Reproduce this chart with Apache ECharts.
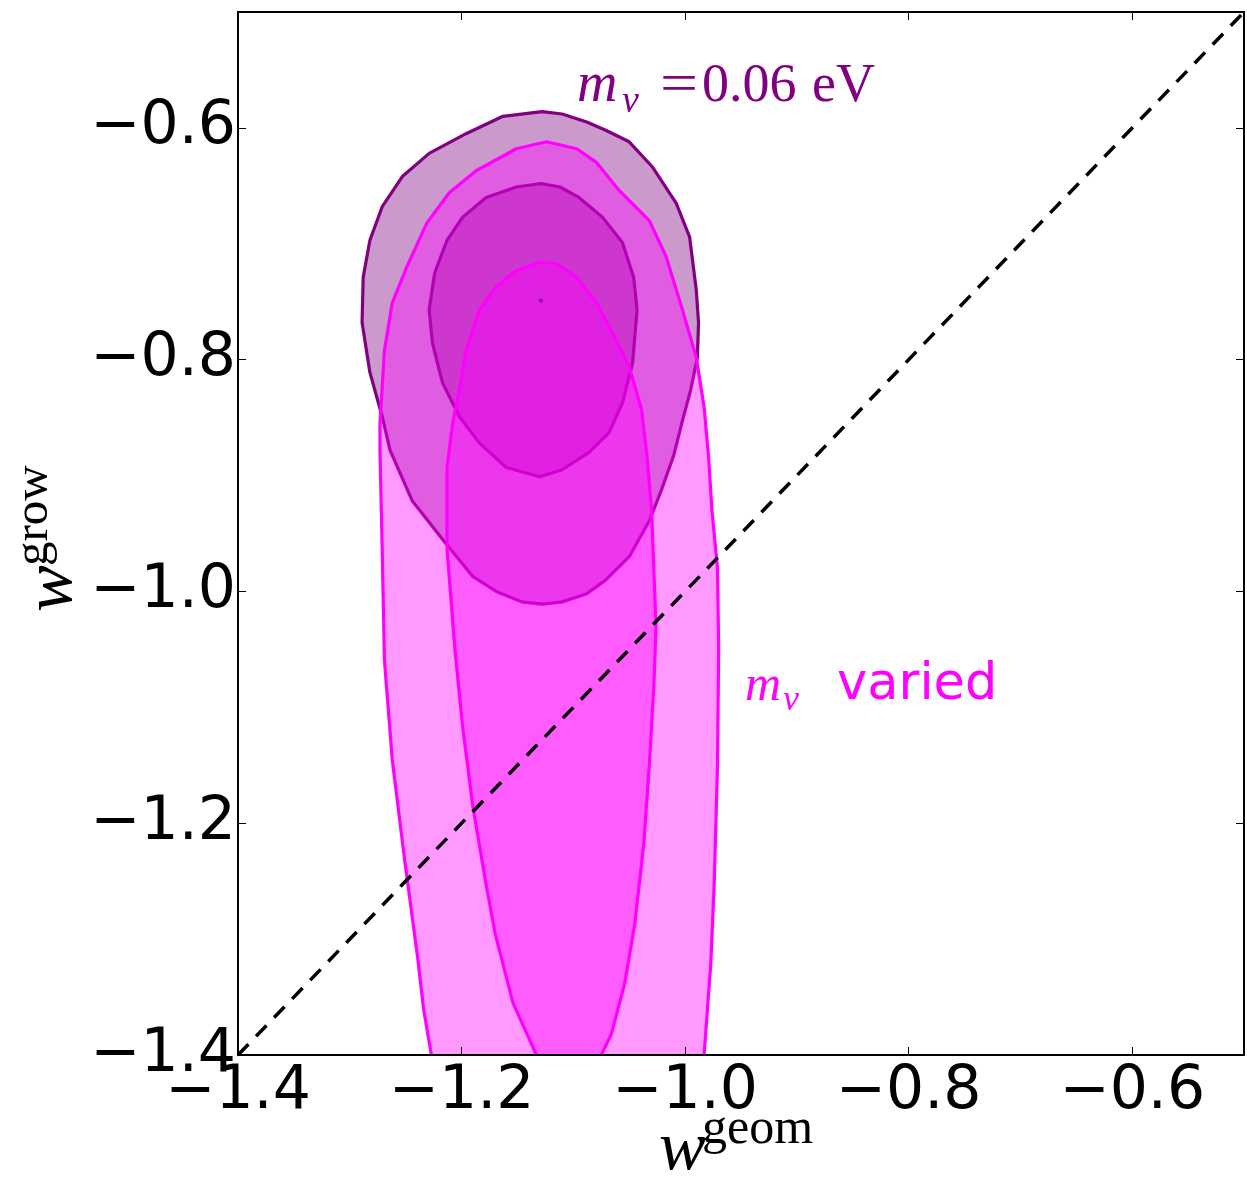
<!DOCTYPE html>
<html>
<head>
<meta charset="utf-8">
<script src="https://cdn.jsdelivr.net/npm/echarts@6.0.0/dist/echarts.min.js"></script>
<style>
  html, body { margin: 0; padding: 0; background: #fff; }
  #chart { width: 1247px; height: 1178px; }
</style>
</head>
<body>
<div id="chart"></div>
<script>
  // tick labels
  var xTicks = [-1.4, -1.2, -1.0, -0.8, -0.6];
  var yTicks = [-1.4, -1.2, -1.0, -0.8, -0.6];

  // m_nu = 0.06 eV, outer contour
  var fixedOuter = [
    [-1.128, -0.586], [-1.110, -0.588], [-1.088, -0.595], [-1.071, -0.602], [-1.050, -0.612],
    [-1.029, -0.634], [-1.008, -0.665], [-0.996, -0.694], [-0.990, -0.740], [-0.988, -0.768],
    [-0.989, -0.798], [-0.995, -0.826], [-1.003, -0.855], [-1.010, -0.882], [-1.021, -0.912],
    [-1.032, -0.939], [-1.050, -0.970], [-1.071, -0.990], [-1.088, -1.002], [-1.110, -1.009],
    [-1.128, -1.011], [-1.146, -1.009], [-1.169, -1.000], [-1.190, -0.987], [-1.213, -0.960],
    [-1.244, -0.922], [-1.264, -0.878], [-1.271, -0.849], [-1.282, -0.811], [-1.289, -0.768],
    [-1.288, -0.729], [-1.282, -0.697], [-1.271, -0.668], [-1.253, -0.642], [-1.229, -0.622],
    [-1.196, -0.605], [-1.163, -0.590]
  ];
  // m_nu = 0.06 eV, inner contour
  var fixedInner = [
    [-1.129, -0.648], [-1.112, -0.651], [-1.095, -0.660], [-1.074, -0.677], [-1.056, -0.699],
    [-1.046, -0.729], [-1.043, -0.757], [-1.047, -0.803], [-1.056, -0.837], [-1.068, -0.863],
    [-1.086, -0.880], [-1.110, -0.895], [-1.130, -0.901], [-1.160, -0.893], [-1.184, -0.872],
    [-1.202, -0.849], [-1.217, -0.820], [-1.226, -0.786], [-1.229, -0.757], [-1.224, -0.725],
    [-1.213, -0.697], [-1.199, -0.677], [-1.178, -0.660], [-1.151, -0.651]
  ];
  // m_nu varied, outer contour (runs off the bottom of the plot)
  var variedOuter = [
    [-1.227, -1.400], [-1.234, -1.360], [-1.239, -1.318], [-1.251, -1.231], [-1.262, -1.145],
    [-1.269, -1.059], [-1.271, -0.963], [-1.273, -0.878], [-1.273, -0.855], [-1.269, -0.792],
    [-1.262, -0.751], [-1.249, -0.720], [-1.231, -0.682], [-1.211, -0.656], [-1.187, -0.637],
    [-1.151, -0.618], [-1.124, -0.612], [-1.097, -0.618], [-1.079, -0.630], [-1.059, -0.654],
    [-1.032, -0.680], [-1.017, -0.711], [-1.003, -0.755], [-0.990, -0.798], [-0.983, -0.841],
    [-0.979, -0.884], [-0.976, -0.930], [-0.971, -0.980], [-0.970, -1.049], [-0.971, -1.150],
    [-0.974, -1.253], [-0.977, -1.321], [-0.983, -1.400]
  ];
  // m_nu varied, inner contour
  var variedInner = [
    [-1.133, -1.400], [-1.154, -1.355], [-1.170, -1.295], [-1.178, -1.253], [-1.190, -1.185],
    [-1.199, -1.117], [-1.206, -1.049], [-1.213, -0.963], [-1.213, -0.893], [-1.208, -0.855],
    [-1.202, -0.826], [-1.196, -0.792], [-1.184, -0.757], [-1.169, -0.737], [-1.151, -0.723],
    [-1.130, -0.716], [-1.115, -0.717], [-1.097, -0.729], [-1.079, -0.751], [-1.065, -0.777],
    [-1.050, -0.806], [-1.039, -0.843], [-1.034, -0.884], [-1.030, -0.930], [-1.026, -1.031],
    [-1.028, -1.082], [-1.032, -1.150], [-1.037, -1.218], [-1.045, -1.287], [-1.054, -1.338],
    [-1.066, -1.382], [-1.075, -1.400]
  ];
  var peak = [[-1.129, -0.749]];
  var diagonal = [[-1.4, -1.4], [-0.5, -0.5]];

  var purple = '#800080';
  var magenta = '#ff00ff';

  function tickFmt(list) {
    return function (v) {
      for (var i = 0; i < list.length; i++) {
        if (Math.abs(list[i] - v) < 1e-6) return list[i].toFixed(1).replace('-', '\u2212');
      }
      return '';
    };
  }

  // filled contour; closed=false leaves the edge open where it leaves the plot
  function contour(pts, fill, stroke, closed) {
    return {
      type: 'custom',
      coordinateSystem: 'cartesian2d',
      data: pts,
      encode: { x: 0, y: 1 },
      silent: true,
      renderItem: function (params, api) {
        if (params.dataIndex !== 0) return;
        var p = pts.map(function (d) { return api.coord(d); });
        var kids = [{
          type: 'polygon',
          shape: { points: p },
          style: { fill: fill, stroke: closed ? stroke : 'none', lineWidth: 3.2, lineJoin: 'round' }
        }];
        if (!closed) {
          kids.push({
            type: 'polyline',
            shape: { points: p },
            style: { fill: 'none', stroke: stroke, lineWidth: 3.2, lineJoin: 'round' }
          });
        }
        return { type: 'group', children: kids };
      }
    };
  }

  var axisLine = { show: true, onZero: false, lineStyle: { color: '#000', width: 2 } };
  var axisTick = { show: true, inside: true, length: 8, lineStyle: { color: '#000', width: 1 } };
  var labelFont = { fontSize: 60, fontFamily: 'DejaVu Sans', color: '#000' };

  var serif = 'Liberation Serif';
  function txt(x, y, s, size, color, italic, family, sx) {
    return {
      type: 'text', x: x, y: y, scaleX: sx || 1, silent: true,
      style: {
        text: s, fill: color,
        font: (italic ? 'italic ' : '') + size + 'px "' + (family || serif) + '"',
        align: 'left', textAlign: 'left', verticalAlign: 'middle', textVerticalAlign: 'middle'
      }
    };
  }

  var chart = echarts.init(document.getElementById('chart'));
  chart.setOption({
    animation: false,
    backgroundColor: '#fff',
    grid: { left: 238, top: 12, right: 1, bottom: 123 },
    xAxis: [
      {
        type: 'value', min: -1.4, max: -0.5, interval: 0.2, position: 'bottom', z: 5,
        axisLine: axisLine, axisTick: axisTick, splitLine: { show: false },
        axisLabel: Object.assign({ margin: 7, formatter: tickFmt(xTicks) }, labelFont)
      },
      {
        type: 'value', min: -1.4, max: -0.5, interval: 0.2, position: 'top', z: 5,
        axisLine: axisLine, axisTick: axisTick, splitLine: { show: false },
        axisLabel: { show: false }
      }
    ],
    yAxis: [
      {
        type: 'value', min: -1.4, max: -0.5, interval: 0.2, position: 'left', z: 5,
        axisLine: axisLine, axisTick: axisTick, splitLine: { show: false },
        axisLabel: Object.assign({ margin: 2, formatter: tickFmt(yTicks) }, labelFont)
      },
      {
        type: 'value', min: -1.4, max: -0.5, interval: 0.2, position: 'right', z: 5,
        axisLine: axisLine, axisTick: axisTick, splitLine: { show: false },
        axisLabel: { show: false }
      }
    ],
    series: [
      contour(fixedOuter, 'rgba(128,0,128,0.4)', purple, true),
      contour(fixedInner, 'rgba(128,0,128,0.4)', purple, true),
      contour(variedOuter, 'rgba(255,0,255,0.4)', magenta, false),
      contour(variedInner, 'rgba(255,0,255,0.4)', magenta, false),
      {
        type: 'scatter', data: peak, symbolSize: 4, silent: true,
        itemStyle: { color: purple }
      },
      {
        type: 'line', data: diagonal, symbol: 'none', silent: true,
        lineStyle: { color: '#000', width: 3.5, type: [15, 11] }
      }
    ],
    graphic: [
      // m_nu = 0.06 eV
      txt(577, 86, 'm', 56, purple, true),
      txt(622, 102, '\u03bd', 38, purple, true),
      txt(660, 87, '=', 54, purple, false, null, 1.25),
      txt(702, 87, '0.06', 54, purple, false),
      txt(812, 87, 'eV', 54, purple, false),
      // m_nu varied
      txt(745, 687, 'm', 50, magenta, true),
      txt(783, 701, '\u03bd', 36, magenta, true),
      txt(837, 686, 'varied', 51, magenta, false, 'DejaVu Sans'),
      // x axis title
      txt(659, 1151, 'w', 70, '#000', true),
      txt(702, 1130, 'geom', 50, '#000', false),
      // y axis title, rotated
      {
        type: 'group', x: 74, y: 612, rotation: Math.PI / 2,
        children: [
          txt(0, -21, 'w', 70, '#000', true),
          txt(46, -40, 'grow', 49, '#000', false)
        ]
      }
    ]
  });
</script>
</body>
</html>
